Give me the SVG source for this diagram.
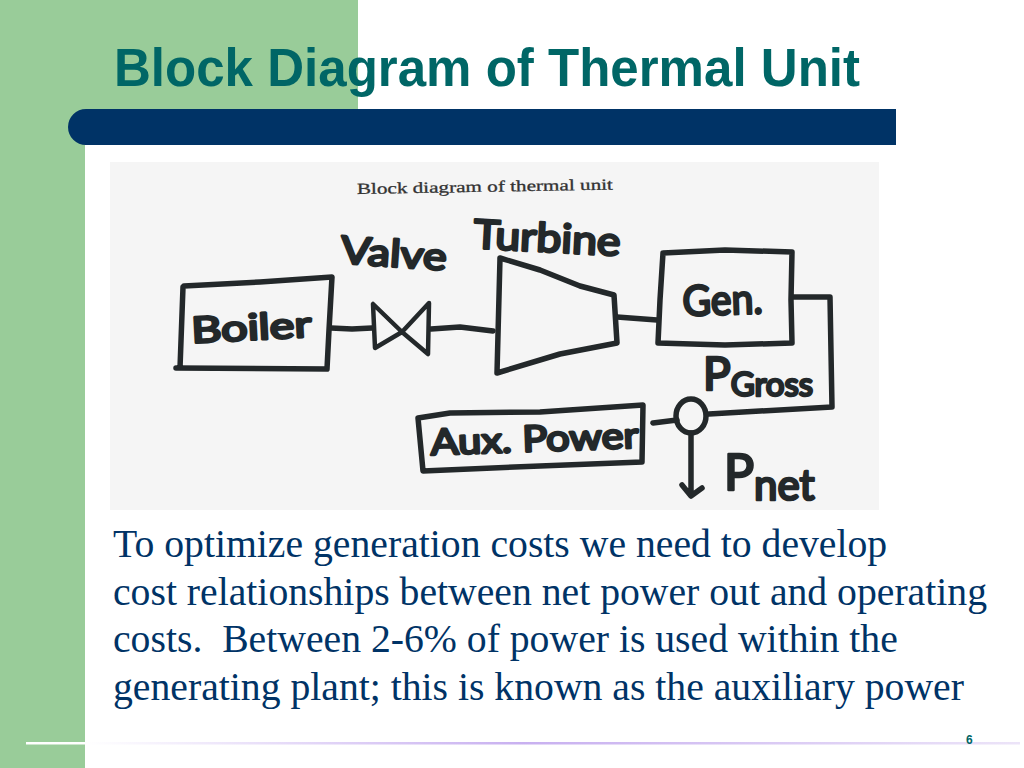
<svg xmlns="http://www.w3.org/2000/svg" width="1024" height="768" viewBox="0 0 1024 768">
<style>
.ink{fill:none;stroke:#23282a;stroke-width:5.5;stroke-linecap:round;stroke-linejoin:round}
.thin{stroke-width:4.5}
.hand{font-family:"Lato","Open Sans",sans-serif;font-weight:400;fill:#23282a;stroke:#23282a;stroke-width:2.6;stroke-linejoin:round;stroke-linecap:round}
.body{font-family:"Liberation Serif",serif;font-size:39.7px;fill:#003366}
</style>
<defs>
<linearGradient id="rule" x1="0" x2="1" y1="0" y2="0">
<stop offset="0" stop-color="#ffffff"/>
<stop offset="0.06" stop-color="#ffffff"/>
<stop offset="0.5" stop-color="#c8b0f0"/>
<stop offset="1" stop-color="#ece4f8"/>
</linearGradient>
</defs>
<rect width="1024" height="768" fill="#ffffff"/>
<g id="background">
<rect x="0" y="0" width="85" height="768" fill="#99cc99"/>
<rect x="0" y="0" width="358" height="110" fill="#99cc99"/>
<path d="M896 109H86A18 18 0 0 0 86 145H896Z" fill="#003366"/>
<rect x="26" y="742" width="994" height="2.5" fill="url(#rule)"/>
</g>
<text x="114" y="85.5" font-family="Liberation Sans,sans-serif" font-weight="700" font-size="53" fill="#006666" textLength="746" lengthAdjust="spacingAndGlyphs">Block Diagram of Thermal Unit</text>
<rect id="scan" x="110" y="162" width="769" height="348" fill="#f5f5f5"/>
<text x="357" y="194" font-family="Liberation Serif,serif" font-size="15.5" fill="#333333" stroke="#333333" stroke-width="0.3" transform="rotate(-1 357 194)" textLength="256" lengthAdjust="spacingAndGlyphs">Block diagram of thermal unit</text>
<g id="connectors">
<path class="ink" d="M331 328L352 329L372 328"/>
<path class="ink" d="M431 329L460 327L493 331"/>
<path class="ink" d="M617 317L657 320"/>
<path class="ink" d="M793 297L830 297L832 407L760 411L709 414"/>
<path class="ink" d="M653 423L677 420"/>
<path class="ink" d="M691 433L691 495M682 485L691 496L702 488"/>
</g>
<g id="boiler">
<path class="ink" d="M183 287L180 368M176 368L327 369M184 286L260 282L332 277L329 330L327 369"/>
<text class="hand" x="192" y="343" font-size="36" transform="rotate(-3 192 343)" textLength="120" lengthAdjust="spacingAndGlyphs">Boiler</text>
</g>
<g id="valve">
<path class="ink thin" d="M373 304L375 348L402 332L428 354L429 303L402 332Z"/>
<text class="hand" x="340" y="263" font-size="38" transform="rotate(4 340 263)" textLength="106" lengthAdjust="spacingAndGlyphs">Valve</text>
</g>
<g id="turbine">
<path class="ink" d="M500 258L497 373L560 354L617 343L614 295L580 286L540 270L500 258"/>
<text class="hand" x="473" y="248" font-size="40" transform="rotate(3 473 248)" textLength="147" lengthAdjust="spacingAndGlyphs">Turbine</text>
</g>
<g id="generator">
<path class="ink" d="M663 253L725 250L792 252L791 300L792 343L725 345L658 343L660 300L663 253"/>
<text class="hand" x="683" y="316" font-size="42" transform="rotate(-2 683 316)" textLength="80" lengthAdjust="spacingAndGlyphs">Gen.</text>
</g>
<g id="p-gross">
<text class="hand" x="703" y="390" font-size="46">P<tspan font-size="33" dy="6">Gross</tspan></text>
</g>
<g id="aux-power">
<path class="ink" d="M418 418L450 413L540 412L643 405L642 462L540 466L423 471L418 418"/>
<text class="hand" x="431" y="455" font-size="36" transform="rotate(-2 431 455)" textLength="208" lengthAdjust="spacingAndGlyphs">Aux. Power</text>
</g>
<g id="junction">
<ellipse class="ink" cx="691" cy="416" rx="15" ry="17" fill="#f5f5f5"/>
</g>
<g id="p-net">
<text class="hand" x="724" y="490" font-size="50">P<tspan font-size="42" dy="10">net</tspan></text>
</g>
<g id="caption" class="body">
<text x="113" y="556.5">To optimize generation costs we need to develop</text>
<text x="113" y="604.5">cost relationships between net power out and operating</text>
<text x="113" y="651.5" xml:space="preserve">costs.  Between 2-6% of power is used within the</text>
<text x="113" y="699.5">generating plant; this is known as the auxiliary power</text>
</g>
<text id="page" x="966" y="744" font-family="Liberation Sans,sans-serif" font-weight="700" font-size="12" fill="#006666">6</text>
</svg>
